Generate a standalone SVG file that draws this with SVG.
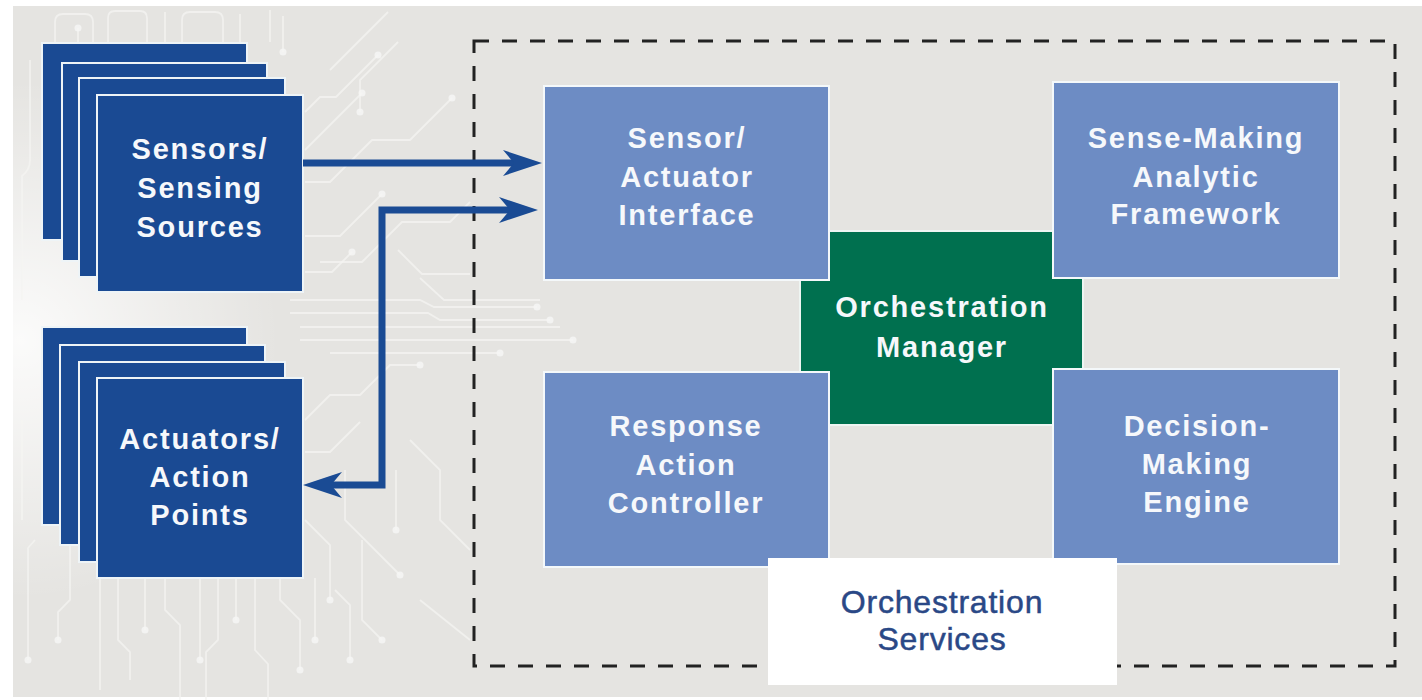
<svg xmlns="http://www.w3.org/2000/svg" width="1422" height="700" viewBox="0 0 1422 700">
  <style>
    .card { fill: #1a4a93; stroke: #eef4f7; stroke-width: 2; }
    .svc { fill: #6d8cc4; stroke: #f4f8fa; stroke-width: 2; }
    .mgr { fill: #00704f; stroke: #eef5f2; stroke-width: 2; }
    .lbl { font-family: "Liberation Sans", Arial, sans-serif; font-weight: bold; font-size: 29px; letter-spacing: 1.8px; fill: #f6f8fb; text-anchor: middle; }
    .cap { font-family: "Liberation Sans", Arial, sans-serif; font-size: 32px; letter-spacing: 0.8px; fill: #2a4886; stroke: #2a4886; stroke-width: 0.5; text-anchor: middle; }
    .trace { fill: none; stroke: #f4f4f2; stroke-width: 1.8; stroke-opacity: 0.75; }
    .pad { fill: #f6f6f4; fill-opacity: 0.85; }
    .link { fill: none; stroke: #1a4b94; stroke-width: 7; stroke-linejoin: miter; }
    .frame { fill: none; stroke: #222; stroke-width: 3; stroke-dasharray: 15 13; }
  </style>
  <defs>
    <radialGradient id="glow" cx="20" cy="340" r="260" gradientUnits="userSpaceOnUse">
      <stop offset="0" stop-color="#ffffff" stop-opacity="0.85"/>
      <stop offset="1" stop-color="#ffffff" stop-opacity="0"/>
    </radialGradient>
    <marker id="head" markerUnits="userSpaceOnUse" viewBox="-30 -15 45 30" refX="0" refY="0" markerWidth="45" markerHeight="30" orient="auto-start-reverse" overflow="visible">
      <path d="M12,0 L-27,-13 L-16,0 L-27,13 Z" fill="#1a4b94"/>
    </marker>
  </defs>

  <!-- backdrop -->
  <rect x="0" y="0" width="1422" height="700" fill="#ffffff"/>
  <rect x="13" y="6" width="1409" height="691" fill="#e5e4e1"/>
  <rect x="13" y="6" width="500" height="691" fill="url(#glow)"/>

  <!-- circuit-board traces -->
  <g id="traces">
    <g class="trace">
      <path d="M55,42 V22 Q55,14 63,14 H85 Q93,14 93,22 V42"/>
      <path d="M108,42 V18 Q108,11 115,11 H140 Q147,11 147,18 V42"/>
      <path d="M78,42 V28"/>
      <path d="M165,42 V12"/>
      <path d="M182,42 V20 Q182,12 190,12 H215 Q223,12 223,20 V42"/>
      <path d="M240,42 V14"/>
      <path d="M270,42 V10"/>
      <path d="M283,52 V16"/>
      <path d="M30,60 V160 Q30,170 22,176 V300"/>
      <path d="M22,420 V520"/>
      <path d="M35,540 L28,548 V660"/>
      <path d="M305,112 L320,97 H336 L378,55"/>
      <path d="M305,150 L335,120 L362,93"/>
      <path d="M330,70 L388,12"/>
      <path d="M398,42 L360,80 V112"/>
      <path d="M305,182 H330 L372,140 H410 L452,98"/>
      <path d="M305,236 H340 L382,194"/>
      <path d="M320,262 H362 L402,222 H450 L470,202"/>
      <path d="M398,250 L422,274 H470"/>
      <path d="M305,272 H332 L352,252"/>
      <path d="M420,278 L444,300 H540"/>
      <path d="M290,300 H420 L434,307 H537"/>
      <path d="M290,313 H428 L440,320 H550"/>
      <path d="M300,327 H560"/>
      <path d="M300,340 H573"/>
      <path d="M330,353 H500"/>
      <path d="M305,420 L330,395 H360 L390,365 H420"/>
      <path d="M305,452 H330 L360,422"/>
      <path d="M345,470 V520 L400,575"/>
      <path d="M410,440 L440,470 V520 L470,550"/>
      <path d="M305,520 L330,545 V600"/>
      <path d="M362,540 V620 L382,640"/>
      <path d="M420,600 L470,640"/>
      <path d="M396,470 V530"/>
      <path d="M70,525 V600 L58,612 V640"/>
      <path d="M100,578 V690"/>
      <path d="M118,578 V640 L130,652 V680"/>
      <path d="M145,578 V630"/>
      <path d="M165,578 V610 L180,625 V700"/>
      <path d="M200,578 V660"/>
      <path d="M218,578 V640 L206,652 V700"/>
      <path d="M236,578 V620"/>
      <path d="M255,578 V650 L268,664 V700"/>
      <path d="M280,578 V600 L300,620 V670"/>
      <path d="M315,578 V640"/>
      <path d="M335,590 L350,605 V660"/>
    </g>
    <g class="pad">
      <circle cx="78" cy="28" r="3.5"/>
      <circle cx="283" cy="52" r="3.5"/>
      <circle cx="378" cy="55" r="3.5"/>
      <circle cx="362" cy="93" r="3.5"/>
      <circle cx="360" cy="112" r="3.5"/>
      <circle cx="452" cy="98" r="3.5"/>
      <circle cx="382" cy="194" r="3.5"/>
      <circle cx="352" cy="252" r="3.5"/>
      <circle cx="537" cy="307" r="3.5"/>
      <circle cx="550" cy="320" r="3.5"/>
      <circle cx="573" cy="340" r="3.5"/>
      <circle cx="500" cy="353" r="3.5"/>
      <circle cx="420" cy="365" r="3.5"/>
      <circle cx="400" cy="575" r="3.5"/>
      <circle cx="330" cy="600" r="3.5"/>
      <circle cx="382" cy="640" r="3.5"/>
      <circle cx="396" cy="530" r="3.5"/>
      <circle cx="58" cy="640" r="3.5"/>
      <circle cx="145" cy="630" r="3.5"/>
      <circle cx="200" cy="660" r="3.5"/>
      <circle cx="236" cy="620" r="3.5"/>
      <circle cx="300" cy="670" r="3.5"/>
      <circle cx="315" cy="640" r="3.5"/>
      <circle cx="350" cy="660" r="3.5"/>
      <circle cx="28" cy="660" r="3.5"/>
    </g>
  </g>

  <!-- service boundary -->
  <rect id="boundary" class="frame" x="474" y="41" width="921" height="625"/>

  <!-- sensing sources (stacked) -->
  <g id="sensors">
    <rect class="card" x="42" y="43" width="205" height="197"/>
    <rect class="card" x="62" y="63" width="205" height="198"/>
    <rect class="card" x="79" y="78" width="206" height="199"/>
    <rect class="card" x="97" y="95" width="206" height="197"/>
    <text class="lbl" x="200" y="159">Sensors/</text>
    <text class="lbl" x="200" y="198">Sensing</text>
    <text class="lbl" x="200" y="237">Sources</text>
  </g>

  <!-- action points (stacked) -->
  <g id="actuators">
    <rect class="card" x="42" y="327" width="205" height="198"/>
    <rect class="card" x="60" y="345" width="205" height="200"/>
    <rect class="card" x="79" y="362" width="206" height="200"/>
    <rect class="card" x="97" y="378" width="206" height="200"/>
    <text class="lbl" x="200" y="449">Actuators/</text>
    <text class="lbl" x="200" y="487">Action</text>
    <text class="lbl" x="200" y="525">Points</text>
  </g>

  <!-- central manager -->
  <g id="manager">
    <rect class="mgr" x="800" y="231" width="283" height="194"/>
    <text class="lbl" x="942" y="317">Orchestration</text>
    <text class="lbl" x="942" y="357">Manager</text>
  </g>

  <g id="interface">
    <rect class="svc" x="544" y="86" width="285" height="194"/>
    <text class="lbl" x="687" y="148">Sensor/</text>
    <text class="lbl" x="687" y="187">Actuator</text>
    <text class="lbl" x="687" y="225">Interface</text>
  </g>

  <g id="analytics">
    <rect class="svc" x="1053" y="82" width="286" height="196"/>
    <text class="lbl" x="1196" y="148">Sense-Making</text>
    <text class="lbl" x="1196" y="187">Analytic</text>
    <text class="lbl" x="1196" y="224">Framework</text>
  </g>

  <g id="controller">
    <rect class="svc" x="544" y="372" width="285" height="195"/>
    <text class="lbl" x="686" y="436">Response</text>
    <text class="lbl" x="686" y="475">Action</text>
    <text class="lbl" x="686" y="513">Controller</text>
  </g>

  <g id="engine">
    <rect class="svc" x="1053" y="369" width="286" height="195"/>
    <text class="lbl" x="1197" y="436">Decision-</text>
    <text class="lbl" x="1197" y="474">Making</text>
    <text class="lbl" x="1197" y="512">Engine</text>
  </g>

  <g id="services-label">
    <rect x="768" y="558" width="349" height="127" fill="#ffffff"/>
    <text class="cap" x="942" y="613">Orchestration</text>
    <text class="cap" x="942" y="650">Services</text>
  </g>

  <!-- connectors -->
  <g id="connectors">
    <path class="link" d="M303,163 H530" marker-end="url(#head)"/>
    <path class="link" d="M526,210 H382 V485 H315" marker-start="url(#head)" marker-end="url(#head)"/>
  </g>
</svg>
